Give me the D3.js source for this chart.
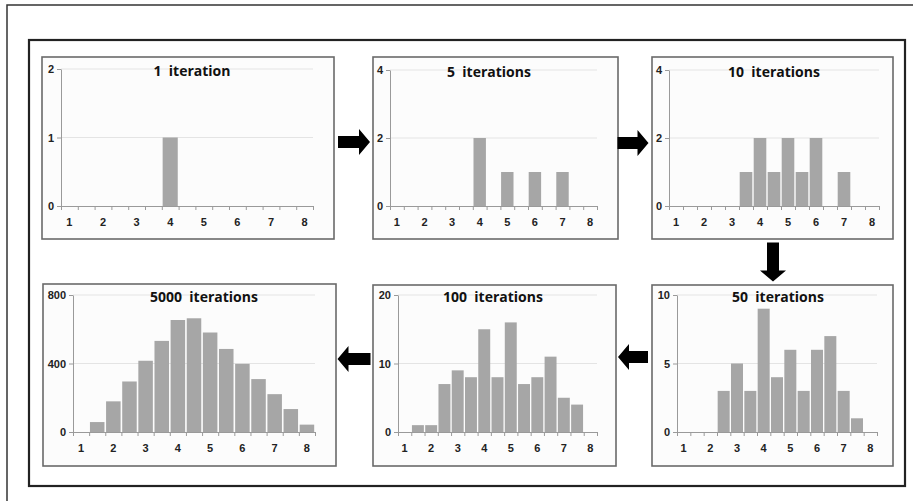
<!DOCTYPE html>
<html>
<head>
<meta charset="utf-8">
<script src="https://cdn.jsdelivr.net/npm/d3@7"></script>
<style>
  body{margin:0;background:#fff;}
  svg{display:block;font-family:"Open Sans","DejaVu Sans",sans-serif;}
  .title{font-size:14px;font-weight:700;fill:#111;}
  .tick text{font-size:11px;font-weight:700;fill:#222;}
</style>
</head>
<body>
<svg id="chart" width="913" height="501"></svg>
<script>
// categories (bins of 0.5), only whole numbers get a label
var categories = ["1","1.5","2","2.5","3","3.5","4","4.5","5","5.5","6","6.5","7","7.5","8"];
var tickLabels = ["1","2","3","4","5","6","7","8"];

// counts per bin
var iter1    = [0,0,0,0,0,0,1,0,0,0,0,0,0,0,0];
var iter5    = [0,0,0,0,0,0,2,0,1,0,1,0,1,0,0];
var iter10   = [0,0,0,0,0,1,2,1,2,1,2,0,1,0,0];
var iter50   = [0,0,0,3,5,3,9,4,6,3,6,7,3,1,0];
var iter100  = [0,1,1,7,9,8,15,8,16,7,8,11,5,4,0];
var iter5000 = [0,58,179,295,416,532,654,664,581,485,398,309,221,134,43];

var titles = ["1  iteration","5  iterations","10  iterations","50  iterations","100  iterations","5000  iterations"];
var yTicks = [[0,1,2],[0,2,4],[0,2,4],[0,5,10],[0,10,20],[0,400,800]];

var svg = d3.select("#chart");

// page frames
svg.append("rect").attr("x",7).attr("y",5).attr("width",912).attr("height",500)
  .attr("fill","none").attr("stroke","#333").attr("stroke-width",1.5);
svg.append("rect").attr("x",29).attr("y",40).attr("width",876).attr("height",446)
  .attr("fill","none").attr("stroke","#222").attr("stroke-width",2.2);

function drawPanel(box,plot,values,title,ticks){
  var g = svg.append("g");
  g.append("rect")
    .attr("x",box[0]).attr("y",box[1])
    .attr("width",box[2]-box[0]).attr("height",box[3]-box[1])
    .attr("fill","#fcfcfc").attr("stroke","#6a6a6a").attr("stroke-width",1.6);

  var x = d3.scaleBand().domain(categories).range([plot.x0,plot.x1])
    .paddingInner(0.1).paddingOuter(0.05);
  var xl = d3.scaleLinear().domain([0,categories.length]).range([plot.x0,plot.x1]);
  var y = d3.scaleLinear().domain([0,d3.max(ticks)]).range([plot.y0,plot.yTop]);

  //gridlines
  g.append("g").selectAll("line").data(ticks.slice(1)).join("line")
    .attr("x1",plot.x0).attr("x2",plot.x1)
    .attr("y1",function(d){return y(d);}).attr("y2",function(d){return y(d);})
    .attr("stroke","#e4e4e4").attr("stroke-width",1);

  //bars
  g.append("g").selectAll("rect").data(values).join("rect")
    .attr("x",function(d,i){return x(categories[i]);})
    .attr("width",x.bandwidth())
    .attr("y",function(d){return y(d);})
    .attr("height",function(d){return plot.y0 - y(d);})
    .attr("fill","#a6a6a6")
    .attr("display",function(d){return d>0?null:"none";});

  //y axis
  var ya = g.append("g").attr("transform","translate("+plot.x0+",0)")
    .call(d3.axisLeft(y).tickValues(ticks).tickFormat(d3.format("d"))
      .tickSize(4).tickPadding(3).tickSizeOuter(0));
  ya.selectAll("line,path").attr("stroke","#9a9a9a");

  //x axis: ticks on bin edges
  var xa = g.append("g").attr("transform","translate(0,"+plot.y0+")")
    .call(d3.axisBottom(xl).ticks(categories.length).tickFormat("").tickSize(4).tickSizeOuter(0));
  xa.selectAll("line,path").attr("stroke","#9a9a9a");

  //x labels in the middle of whole number bins
  var xt = g.append("g").attr("transform","translate(0,"+(plot.y0+9)+")")
    .call(d3.axisBottom(x).tickValues(tickLabels).tickSize(0));
  xt.select(".domain").remove();

  g.append("text").attr("class","title")
    .attr("x",plot.tx).attr("y",plot.yTop+7)
    .attr("text-anchor","middle")
    .attr("xml:space","preserve")
    .text(title);
}

drawPanel([42,57,334,239],{x0:61,x1:313,yTop:69,y0:206,tx:192},iter1,titles[0],yTicks[0]);
drawPanel([373,57,618,239],{x0:390,x1:597,yTop:70,y0:206,tx:489},iter5,titles[1],yTicks[1]);
drawPanel([652,57,893,239],{x0:669,x1:879,yTop:70,y0:206,tx:774},iter10,titles[2],yTicks[2]);
drawPanel([652,285,893,466],{x0:677,x1:877,yTop:295,y0:432,tx:778},iter50,titles[3],yTicks[3]);
drawPanel([373,285,616,466],{x0:398,x1:597,yTop:295,y0:432,tx:493},iter100,titles[4],yTicks[4]);
drawPanel([43,284,336,466],{x0:73,x1:315,yTop:295,y0:432,tx:204},iter5000,titles[5],yTicks[5]);

// block arrows between panels
function arrow(cx,cy,len,dir){
  var hl = 11, sh = 6, hh = 13;
  var pts = [[-len/2,-sh],[len/2-hl,-sh],[len/2-hl,-hh],[len/2,0],[len/2-hl,hh],[len/2-hl,sh],[-len/2,sh]];
  var rot = {right:0,down:90,left:180}[dir];
  svg.append("path")
    .attr("d",d3.line()(pts)+"Z")
    .attr("transform","translate("+cx+","+cy+") rotate("+rot+")")
    .attr("fill","#000");
}
arrow(354,142,32,"right");
arrow(633,143,31,"right");
arrow(773,262,39,"down");
arrow(633,357,30,"left");
arrow(354,359,33,"left");
</script>
</body>
</html>
